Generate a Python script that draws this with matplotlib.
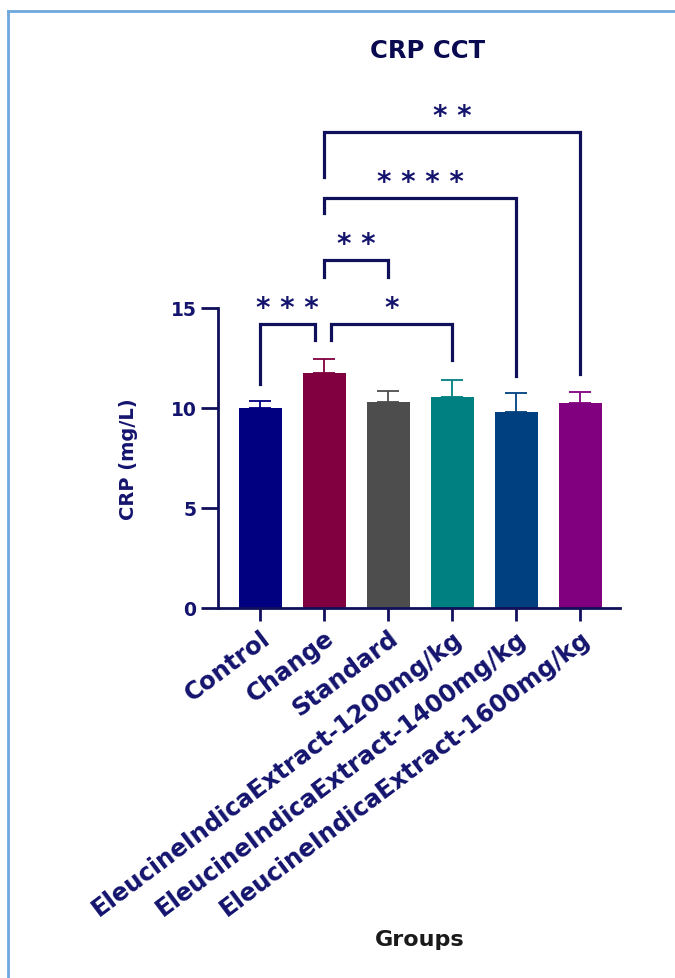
import numpy as np
import matplotlib.pyplot as plt
from matplotlib.lines import Line2D

# group means and upper SEM
groups = ['Control', 'Change', 'Standard',
          'EleucineIndicaExtract-1200mg/kg',
          'EleucineIndicaExtract-1400mg/kg',
          'EleucineIndicaExtract-1600mg/kg']
means = [10.0, 11.75, 10.3, 10.55, 9.8, 10.25]
sem = [0.35, 0.7, 0.55, 0.85, 0.95, 0.55]
colors = ['#000080', '#800040', '#4d4d4d', '#008080', '#004080', '#800080']

# significance brackets: (left group, right group, bar height, left leg end, right leg end, stars)
pairs = [(0, 1, 14.2, 11.2, 13.4, '***'),
         (1, 3, 14.2, 13.4, 12.4, '*'),
         (1, 2, 17.4, 16.55, 16.55, '**'),
         (1, 4, 20.5, 19.75, 11.6, '****'),
         (1, 5, 23.8, 21.55, 11.7, '**')]

navy = '#14146e'
line_navy = '#0f0f5a'

plt.rcParams['font.family'] = 'DejaVu Sans'
plt.rcParams['font.weight'] = 'bold'

fig = plt.figure(figsize=(6.75, 9.79), dpi=100)
ax = fig.add_axes([218/675, 1-609/979, 402/675, 500/979])

x = np.arange(len(groups))
ax.bar(x, means, width=0.67, color=colors, zorder=2)
for i in range(len(groups)):
    ax.errorbar(x[i], means[i], yerr=[[0], [sem[i]]], fmt='none',
                ecolor=colors[i], elinewidth=1.3, capsize=8, capthick=1.3, zorder=1)

for a, b, h, la, lb, stars in pairs:
    xa = x[a] + (0.11 if a == 1 and b == 3 else 0)
    xb = x[b] - (0.14 if a == 0 else 0)
    ax.plot([xa, xa, xb, xb], [la, h, h, lb], color=line_navy, lw=2.3,
            solid_joinstyle='miter', clip_on=False)
    ax.text((xa + xb) / 2, h + 0.4, ' '.join(stars), ha='center', va='baseline',
            fontsize=20, color=navy)

ax.set_xlim(-0.66, 5.62)
ax.set_ylim(0, 25)
ax.spines['left'].set_bounds(0, 15)
ax.spines['top'].set_visible(False)
ax.spines['right'].set_visible(False)
for s in ['left', 'bottom']:
    ax.spines[s].set_color(line_navy)
    ax.spines[s].set_linewidth(2)

ax.set_yticks([0, 5, 10, 15])
ax.tick_params(axis='y', length=12, width=2, color=line_navy, labelcolor=navy,
               labelsize=13.5, pad=3.5)
ax.tick_params(axis='x', length=9, width=2, color=line_navy)
ax.set_xticks(x)
ax.set_xticklabels(groups, rotation=37, ha='right', va='top',
                   rotation_mode='anchor', fontsize=17.5, color=navy)

ax.set_ylabel('CRP (mg/L)', fontsize=14, fontweight='bold', color=navy)
ax.yaxis.set_label_coords(-0.2, 7.5/25)
fig.text(428/675, 1-51/979, 'CRP CCT', ha='center', va='center',
         fontsize=17.5, color='#0a0a50')
fig.text(420/675, 1-940/979, 'Groups', ha='center', va='center',
         fontsize=16, color='#1a1a1a')

# outer frame, left and top edges only
fig.add_artist(Line2D([8/675, 8/675], [0, 1-12/979], color='#6fa8dc', lw=2,
                      transform=fig.transFigure))
fig.add_artist(Line2D([8/675, 1], [1-12/979, 1-12/979], color='#6fa8dc', lw=2,
                      transform=fig.transFigure))

fig.savefig('out.png', dpi=100)
